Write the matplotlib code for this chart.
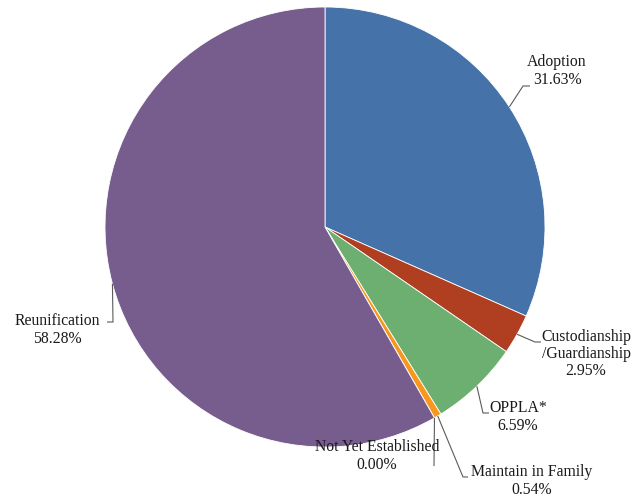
import matplotlib
matplotlib.use("Agg")
import matplotlib.pyplot as plt
import numpy as np

categories = ["Adoption", "Custodianship\n/Guardianship", "OPPLA*", "Maintain in Family",
              "Not Yet Established", "Reunification"]
values = [31.63, 2.95, 6.59, 0.54, 0.00, 58.28]
colors = ["#4572A8", "#B03E20", "#6DAF70", "#F7981D", "#F0F0F0", "#775C8E"]

plt.rcParams['font.family'] = ['Liberation Serif', 'DejaVu Serif']

W, H = 632, 500
fig = plt.figure(figsize=(W / 100, H / 100), dpi=100)
cx, cy, R = 325, 227, 220
ax = fig.add_axes([(cx - R) / W, (H - cy - R) / H, 2 * R / W, 2 * R / H])

wedges, _ = ax.pie(values, colors=colors, startangle=90, counterclock=False, radius=1,
                   wedgeprops=dict(edgecolor='white', linewidth=0.6))
ax.set_xlim(-1, 1)
ax.set_ylim(-1, 1)
ax.set_aspect('equal')
ax.axis('off')


def px(x, y):
    return ((x - cx) / R, (cy - y) / R)


# label layout: (text anchor pixel, ha, elbow pixel, end pixel)
layout = [
    ((557, 71), 'center', (523, 86), (530, 86)),
    ((586, 354), 'center', (535, 342), (541, 342)),
    ((518, 417), 'center', (483, 413), (489, 413)),
    ((532, 481), 'center', (463, 477), (468, 477)),
    ((377, 456), 'center', (434, 466), (434, 466)),
    ((57, 330), 'center', (113, 322), (107, 322)),
]

cum = 0.0
for i, (cat, v) in enumerate(zip(categories, values)):
    mid = 90 - (cum + v / 2) * 3.6
    cum += v
    ex, ey = np.cos(np.radians(mid)), np.sin(np.radians(mid))
    (tx, ty), ha, elbow, end = layout[i]
    e1 = px(*elbow)
    e2 = px(*end)
    ax.plot([ex, e1[0], e2[0]], [ey, e1[1], e2[1]], color='#5a5a5a', lw=0.8,
            clip_on=False, solid_capstyle='butt')
    t = px(tx, ty)
    ax.text(t[0], t[1], f"{cat}\n{v:.2f}%", ha=ha, va='center', fontsize=11.3,
            linespacing=1.12, color='#1a1a1a')

fig.savefig("out.png", dpi=100, facecolor='white')
